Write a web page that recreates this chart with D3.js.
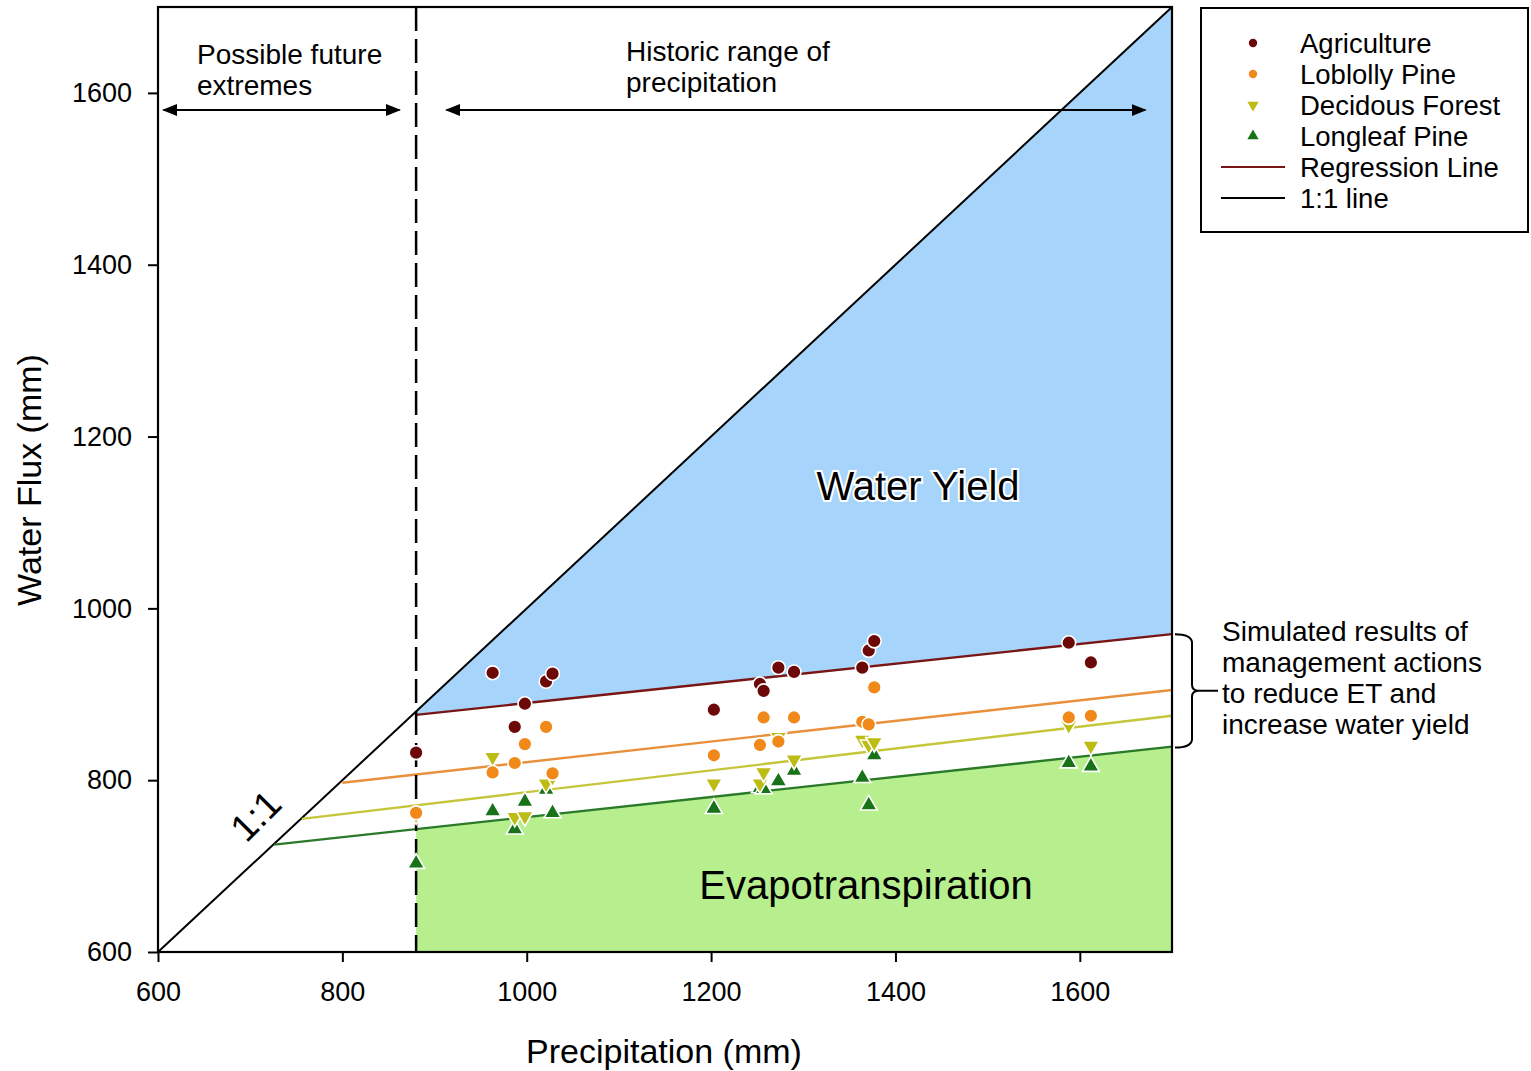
<!DOCTYPE html>
<html>
<head>
<meta charset="utf-8">
<script src="https://cdn.jsdelivr.net/npm/d3@7"></script>
<style>
  html, body { margin: 0; padding: 0; background: #fff; }
  svg { display: block; font-family: "Liberation Sans", Arial, sans-serif; }
</style>
</head>
<body>
<svg id="chart" width="1531" height="1071"></svg>
<script>
// ---------------- DATA ----------------
const precip = [880, 963, 987, 998, 1021, 1028, 1203, 1253, 1257, 1273, 1290, 1364, 1371, 1377, 1588, 1612];
const agriculture = [832, 925, 862, 889, 915, 924, 882, 912, 904, 931, 926, 931, 951, 962, 960, 937];
const loblolly    = [762, 809, 820, 842, 862, 808, 829, 841, 873, 845, 873, 868, 865, 908, 873, 875];
const deciduous   = [760, 827, 757, 758, 796, 804, 796, 796, 809, 850, 824, 847, 841, 844, 864, 840];
const longleaf    = [703, 764, 743, 775, 789, 762, 767, 791, 790, 799, 811, 803, 771, 829, 820, 816];

const seriesNames = ["Agriculture", "Loblolly Pine", "Decidous Forest", "Longleaf Pine"];
// regression lines: start precipitation, value at start, value at 1700
const regStart = [880, 800, 756, 726];
const regStartVal = [876, 797, 755, 725];
const regEndVal = [970, 905, 875, 839];

const xTicks = [600, 800, 1000, 1200, 1400, 1600];
const yTicks = [600, 800, 1000, 1200, 1400, 1600];
const xDomain = [600, 1700];
const yDomain = [600, 1700];
const historicStart = 880;
const futureArrow = [606, 862];
const historicArrow = [913, 1671];
const arrowLevel = 1580;
const bracketRange = [838, 970];

const legendLabels = ["Agriculture", "Loblolly Pine", "Decidous Forest", "Longleaf Pine", "Regression Line", "1:1 line"];
const noteLines = ["Simulated results of", "management actions", "to reduce ET and", "increase water yield"];

// ---------------- STYLE ----------------
const pointColors = ["#6c0808", "#f0881a", "#bcbc14", "#187218"];
const lineColors  = ["#7a1515", "#e8903c", "#c6c63c", "#2a7a2a"];
const shapes = [d3.symbolCircle, d3.symbolCircle, "down", d3.symbolTriangle];
const blueFill = "#a6d4fa";
const greenFill = "#b7ef8e";

const svg = d3.select("#chart");
const x = d3.scaleLinear().domain(xDomain).range([158, 1172]);
const y = d3.scaleLinear().domain(yDomain).range([952, 7]);

const defs = svg.append("defs");
defs.append("marker").attr("id", "ah").attr("viewBox", "0 0 10 10")
  .attr("refX", 9).attr("refY", 5).attr("markerWidth", 15).attr("markerHeight", 15)
  .attr("markerUnits", "userSpaceOnUse").attr("orient", "auto-start-reverse")
  .append("path").attr("d", "M0,1 L10,5 L0,9 z").attr("fill", "#000");

const regAt = (i, p) => regStartVal[i] + (regEndVal[i] - regStartVal[i]) * (p - regStart[i]) / (1700 - regStart[i]);

// fills
const line = d3.line().x(d => x(d[0])).y(d => y(d[1]));
svg.append("path")
  .attr("d", line([[historicStart, regAt(0, historicStart)], [historicStart, historicStart], [1700, 1700], [1700, regEndVal[0]]]) + "Z")
  .attr("fill", blueFill);
svg.append("path")
  .attr("d", line([[historicStart, 600], [historicStart, regAt(3, historicStart)], [1700, regEndVal[3]], [1700, 600]]) + "Z")
  .attr("fill", greenFill);

// 1:1 line
svg.append("path").attr("d", line([[600, 600], [1700, 1700]]))
  .attr("stroke", "#000").attr("stroke-width", 2).attr("fill", "none");

// regression lines
regStart.forEach((s, i) => {
  svg.append("path").attr("d", line([[s, regStartVal[i]], [1700, regEndVal[i]]]))
    .attr("stroke", lineColors[i]).attr("stroke-width", 2.4).attr("fill", "none");
});

// dashed historic line
svg.append("line").attr("x1", x(historicStart)).attr("x2", x(historicStart))
  .attr("y1", y(1700)).attr("y2", y(600))
  .attr("stroke", "#000").attr("stroke-width", 2.5).attr("stroke-dasharray", "24,8");

// points
const series = [agriculture, loblolly, deciduous, longleaf];
function symPath(shape, size) {
  if (shape === "down") return d3.symbol(d3.symbolTriangle, size)();
  return d3.symbol(shape, size)();
}
series.slice().reverse().forEach((vals, ri) => {
  const i = 3 - ri;
  svg.append("g").selectAll("path").data(vals).join("path")
    .attr("d", symPath(shapes[i], i < 2 ? 150 : 125))
    .attr("transform", (d, k) => `translate(${x(precip[k])},${y(d)})` + (shapes[i] === "down" ? " rotate(180)" : ""))
    .attr("fill", pointColors[i]).attr("stroke", "#fff").attr("stroke-width", 1.6);
});

// frame
svg.append("rect").attr("x", 158).attr("y", 7).attr("width", 1172 - 158).attr("height", 952 - 7)
  .attr("fill", "none").attr("stroke", "#000").attr("stroke-width", 2.2);

// axes
const xAxis = svg.append("g").attr("transform", "translate(0,952)")
  .call(d3.axisBottom(x).tickValues(xTicks).tickSize(10).tickPadding(20).tickFormat(d3.format("d")));
const yAxis = svg.append("g").attr("transform", "translate(158,0)")
  .call(d3.axisLeft(y).tickValues(yTicks).tickSize(10).tickPadding(16).tickFormat(d3.format("d")));
[xAxis, yAxis].forEach(a => {
  a.select(".domain").remove();
  a.selectAll("line").attr("stroke", "#000").attr("stroke-width", 2);
  a.selectAll("text").attr("font-size", 27).attr("fill", "#000").attr("font-family", "Liberation Sans, Arial, sans-serif");
});

// axis titles
svg.append("text").attr("x", 664).attr("y", 1063).attr("text-anchor", "middle")
  .attr("font-size", 34).text("Precipitation (mm)");
svg.append("text").attr("transform", "translate(41,480) rotate(-90)").attr("text-anchor", "middle")
  .attr("font-size", 34).text("Water Flux (mm)");

// region labels
svg.append("text").attr("x", 918).attr("y", 500).attr("text-anchor", "middle").attr("font-size", 40)
  .attr("stroke", "#fff").attr("stroke-width", 4).attr("paint-order", "stroke").text("Water Yield");
svg.append("text").attr("x", 866).attr("y", 899).attr("text-anchor", "middle").attr("font-size", 40)
  .text("Evapotranspiration");
svg.append("text").attr("transform", "translate(265,825) rotate(-45)").attr("text-anchor", "middle")
  .attr("font-size", 38).text("1:1");

// top annotations
const tA = svg.append("text").attr("font-size", 28);
tA.append("tspan").attr("x", 197).attr("y", 64).text("Possible future");
tA.append("tspan").attr("x", 197).attr("y", 95).text("extremes");
const tB = svg.append("text").attr("font-size", 28);
tB.append("tspan").attr("x", 626).attr("y", 61).text("Historic range of");
tB.append("tspan").attr("x", 626).attr("y", 92).text("precipitation");

[futureArrow, historicArrow].forEach(r => {
  svg.append("line").attr("x1", x(r[0])).attr("x2", x(r[1])).attr("y1", y(arrowLevel)).attr("y2", y(arrowLevel))
    .attr("stroke", "#000").attr("stroke-width", 2)
    .attr("marker-start", "url(#ah)").attr("marker-end", "url(#ah)");
});

// bracket
const bTop = y(bracketRange[1]), bBot = y(bracketRange[0]);
const bMid = (bTop + bBot) / 2;
svg.append("path")
  .attr("d", `M1175,${bTop} Q1191,${bTop} 1192,${bTop + 8} L1192,${bMid - 6} Q1192,${bMid} 1199,${bMid} L1218,${bMid} M1199,${bMid} Q1192,${bMid} 1192,${bMid + 6} L1192,${bBot - 8} Q1191,${bBot} 1175,${bBot}`)
  .attr("fill", "none").attr("stroke", "#000").attr("stroke-width", 2);
const note = svg.append("text").attr("font-size", 28);
noteLines.forEach((t, i) => note.append("tspan").attr("x", 1222).attr("y", 641 + i * 31).text(t));

// legend
svg.append("rect").attr("x", 1201).attr("y", 8).attr("width", 327).attr("height", 224)
  .attr("fill", "#fff").attr("stroke", "#000").attr("stroke-width", 2);
legendLabels.forEach((lab, i) => {
  const cy = 43 + i * 31;
  if (i < 4) {
    svg.append("path").attr("d", symPath(shapes[i], 55))
      .attr("transform", `translate(1253,${cy})` + (shapes[i] === "down" ? " rotate(180)" : ""))
      .attr("fill", pointColors[i]);
  } else {
    svg.append("line").attr("x1", 1221).attr("x2", 1285).attr("y1", cy).attr("y2", cy)
      .attr("stroke", i === 4 ? lineColors[0] : "#000").attr("stroke-width", 2);
  }
  svg.append("text").attr("x", 1300).attr("y", cy + 10).attr("font-size", 27.5).text(lab);
});
</script>
</body>
</html>
